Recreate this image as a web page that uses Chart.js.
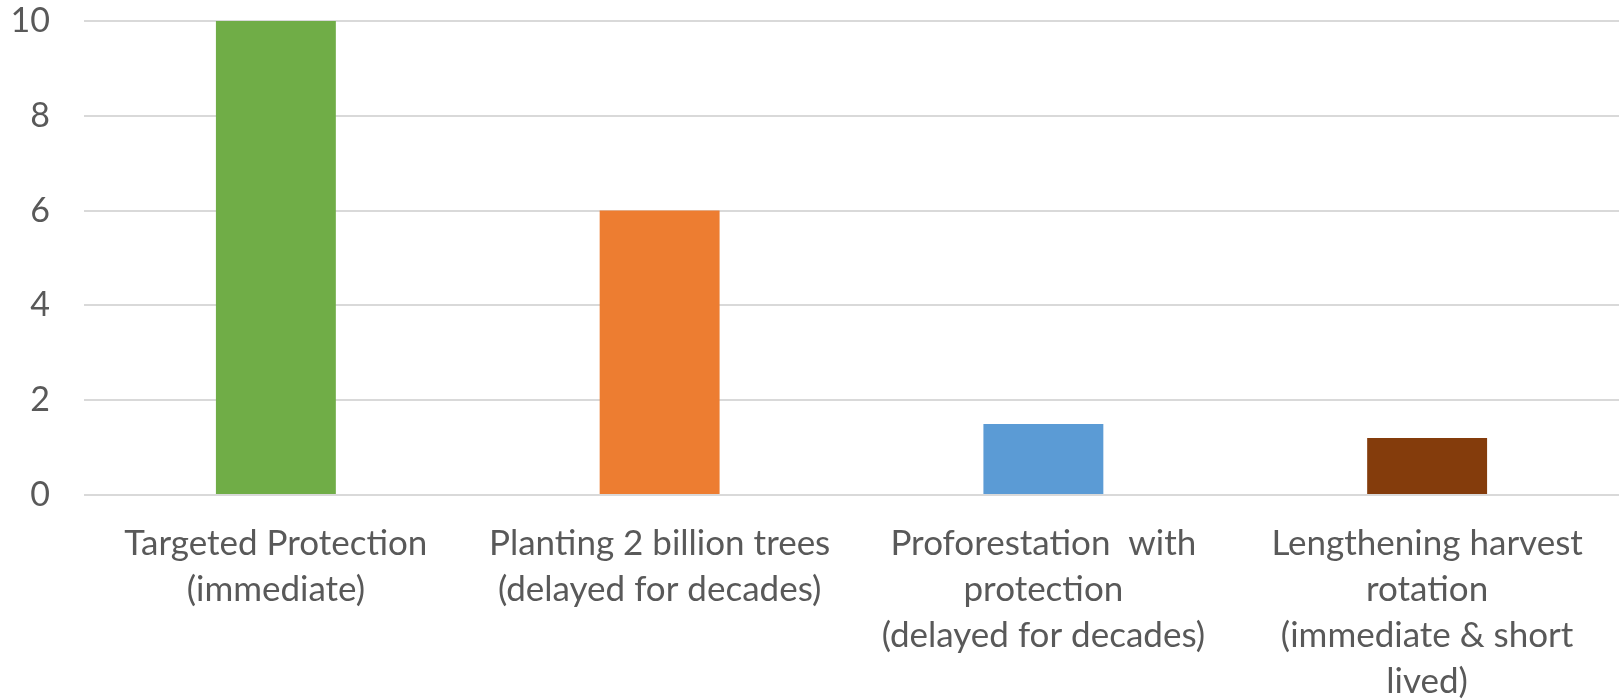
<!DOCTYPE html>
<html>
<head>
<meta charset="utf-8">
<script src="https://cdn.jsdelivr.net/npm/chart.js@4.4.1/dist/chart.umd.min.js"></script>
<style>
  html, body { margin: 0; padding: 0; background: #ffffff; }
  #wrap { width: 1619px; height: 699px; position: relative; }
</style>
</head>
<body>
<div id="wrap"><canvas id="chart" width="1619" height="699"></canvas></div>
<script>
// Forest carbon strategies and their relative benefit
const categories = [
  ["Targeted Protection", "(immediate)"],
  ["Planting 2 billion trees", "(delayed for decades)"],
  ["Proforestation  with", "protection", "(delayed for decades)"],
  ["Lengthening harvest", "rotation", "(immediate & short", "lived)"]
];
const values = [10, 6, 1.5, 1.2];
const barColors = ["#70AD47", "#ED7D31", "#5B9BD5", "#843C0C"];
const yTicks = [0, 2, 4, 6, 8, 10];

const fontFamily = "Lato, 'Open Sans', sans-serif";

new Chart(document.getElementById("chart"), {
  type: "bar",
  data: {
    labels: categories,
    datasets: [{
      data: values,
      backgroundColor: barColors,
      borderWidth: 0,
      categoryPercentage: 1,
      barPercentage: 0.3125
    }]
  },
  options: {
    responsive: false,
    animation: false,
    layout: { padding: { top: 21, right: 0, left: 0, bottom: 0 } },
    plugins: { legend: { display: false }, tooltip: { enabled: false } },
    scales: {
      x: {
        grid: { display: false },
        border: { display: false },
        ticks: {
          autoSkip: false,
          maxRotation: 0,
          minRotation: 0,
          padding: 18,
          color: "#595959",
          font: { family: fontFamily, size: 35, lineHeight: 1.31 }
        },
        afterFit(scale) {
          scale.height = 204;
          scale.paddingLeft = 0;
          scale.paddingRight = 0;
        }
      },
      y: {
        min: 0,
        max: 10,
        afterBuildTicks(scale) { scale.ticks = yTicks.map(v => ({ value: v })); },
        grid: { color: "#d9d9d9", lineWidth: 2, drawTicks: false },
        border: { display: false },
        ticks: {
          padding: 34,
          color: "#595959",
          font: { family: fontFamily, size: 34 }
        },
        afterFit(scale) {
          scale.width = 84;
          scale.paddingTop = 0;
          scale.paddingBottom = 0;
        }
      }
    }
  }
});
</script>
</body>
</html>
